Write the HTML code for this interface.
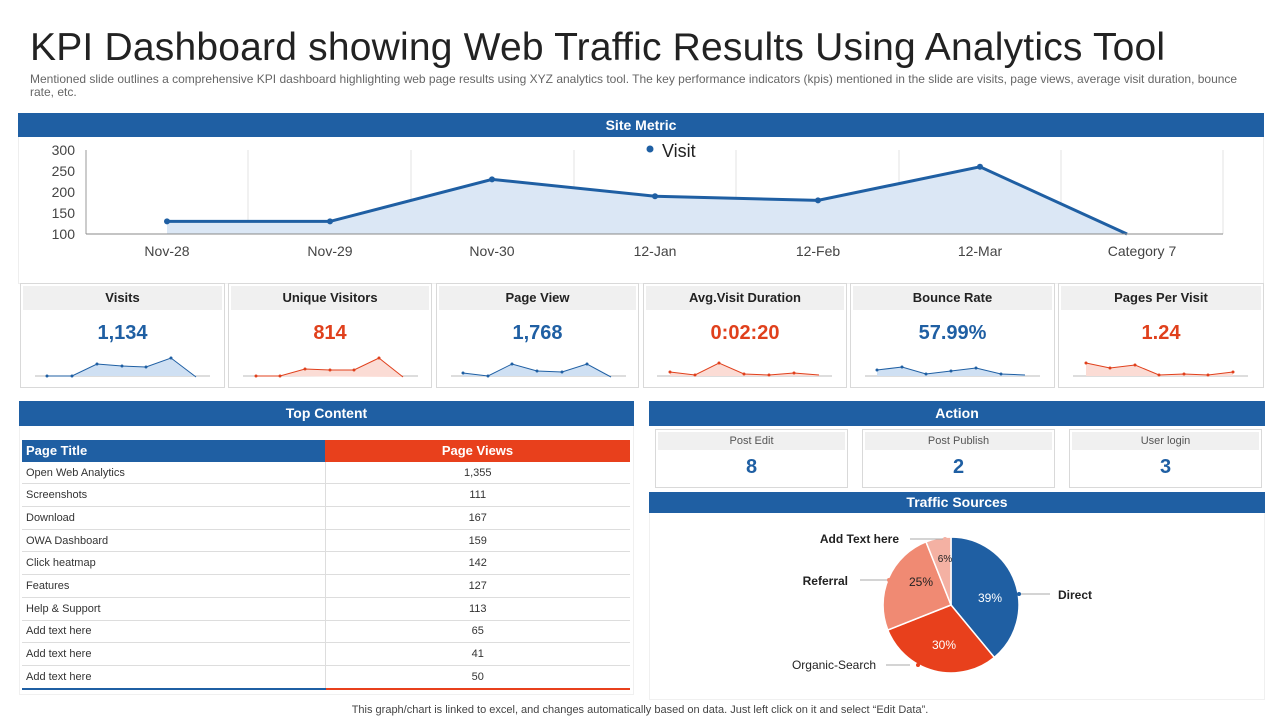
<!DOCTYPE html>
<html><head><meta charset="utf-8"><style>
body{margin:0;width:1280px;height:720px;background:#fff;position:relative;overflow:hidden;font-family:"Liberation Sans",sans-serif;}
.a{position:absolute}
.bar{position:absolute;background:#1f5fa3;color:#fff;font-weight:bold;font-size:14px;text-align:center}
.card{position:absolute;border:1px solid #d9d9d9;background:#fff}
.card .h{position:absolute;left:2px;right:2px;top:2px;height:24px;background:#f0f0f0;font-weight:bold;font-size:13px;color:#222;text-align:center;line-height:24px}
.card .v{position:absolute;left:0;right:0;top:38px;text-align:center;font-size:20px;font-weight:bold}
.ac .h{font-weight:normal;font-size:11px;color:#555;height:18px;line-height:18px}
.ac .v{top:26px}
table{border-collapse:collapse;font-size:11px;color:#333}
td{height:21.7px;border-bottom:1px solid #ddd;padding:0 4px}
</style></head><body>
<div class="a" style="left:30px;top:26px;font-size:39px;color:#222;letter-spacing:0.2px">KPI Dashboard showing Web Traffic Results Using Analytics Tool</div>
<div class="a" style="left:30px;top:73px;width:1215px;font-size:12px;color:#666;line-height:13px">Mentioned slide outlines a comprehensive KPI dashboard highlighting web page results using XYZ analytics tool. The key performance indicators (kpis) mentioned in the slide are visits, page views, average visit duration, bounce rate, etc.</div>

<div class="bar" style="left:18px;top:113px;width:1246px;height:24px;line-height:24px">Site Metric</div>
<div class="a" style="left:18px;top:137px;width:1244px;height:146px;border:1px solid #eee;border-top:none"></div>
<svg class="a" style="left:0;top:0" width="1280" height="290">
<g stroke="#e3e3e3" stroke-width="1">
<line x1="248" y1="150" x2="248" y2="234"/><line x1="411" y1="150" x2="411" y2="234"/><line x1="574" y1="150" x2="574" y2="234"/><line x1="736" y1="150" x2="736" y2="234"/><line x1="899" y1="150" x2="899" y2="234"/><line x1="1061" y1="150" x2="1061" y2="234"/><line x1="1223" y1="150" x2="1223" y2="234"/></g>
<polygon points="167,234 167,221.4 330,221.4 492,179.4 655,196.2 818,200.4 980,166.8 1127,234" fill="#dbe7f5"/>
<polyline points="167,221.4 330,221.4 492,179.4 655,196.2 818,200.4 980,166.8 1127,234" fill="none" stroke="#1f5fa3" stroke-width="3"/>
<g fill="#1f5fa3"><circle cx="167" cy="221.4" r="3"/><circle cx="330" cy="221.4" r="3"/><circle cx="492" cy="179.4" r="3"/><circle cx="655" cy="196.2" r="3"/><circle cx="818" cy="200.4" r="3"/><circle cx="980" cy="166.8" r="3"/></g>
<line x1="86" y1="150" x2="86" y2="234" stroke="#999"/><line x1="86" y1="234" x2="1223" y2="234" stroke="#888"/>
<g font-size="14" fill="#444" text-anchor="end" font-family="Liberation Sans"><text x="75" y="155">300</text><text x="75" y="176">250</text><text x="75" y="197">200</text><text x="75" y="218">150</text><text x="75" y="239">100</text></g>
<g font-size="14" fill="#444" text-anchor="middle" font-family="Liberation Sans"><text x="167" y="256">Nov-28</text><text x="330" y="256">Nov-29</text><text x="492" y="256">Nov-30</text><text x="655" y="256">12-Jan</text><text x="818" y="256">12-Feb</text><text x="980" y="256">12-Mar</text><text x="1142" y="256">Category 7</text></g>
<circle cx="650" cy="149" r="3.5" fill="#1f5fa3"/><text x="662" y="157" font-size="18" fill="#222" font-family="Liberation Sans">Visit</text>
</svg>

<div class="card" style="left:20px;top:283px;width:203px;height:103px"><div class="h">Visits</div><div class="v" style="color:#1f5fa3">1,134</div></div>
<div class="card" style="left:228px;top:283px;width:202px;height:103px"><div class="h">Unique Visitors</div><div class="v" style="color:#e0401c">814</div></div>
<div class="card" style="left:436px;top:283px;width:201px;height:103px"><div class="h">Page View</div><div class="v" style="color:#1f5fa3">1,768</div></div>
<div class="card" style="left:643px;top:283px;width:202px;height:103px"><div class="h">Avg.Visit Duration</div><div class="v" style="color:#e0401c">0:02:20</div></div>
<div class="card" style="left:850px;top:283px;width:203px;height:103px"><div class="h">Bounce Rate</div><div class="v" style="color:#1f5fa3">57.99%</div></div>
<div class="card" style="left:1058px;top:283px;width:204px;height:103px"><div class="h">Pages Per Visit</div><div class="v" style="color:#e0401c">1.24</div></div>
<svg class="a" style="left:0;top:340px" width="1280" height="50">
<g stroke="#bbb"><line x1="35" y1="36" x2="210" y2="36"/><line x1="243" y1="36" x2="418" y2="36"/><line x1="451" y1="36" x2="626" y2="36"/><line x1="657" y1="36" x2="832" y2="36"/><line x1="865" y1="36" x2="1040" y2="36"/><line x1="1073" y1="36" x2="1248" y2="36"/></g>
<g fill="#cfe0f3"><polygon points="47,36 72,36 97,24 122,26 146,27 171,18 196,37 196,36"/><polygon points="463,33 488,36 512,24 537,31 562,32 587,24 611,37 611,36 463,36"/><polygon points="877,30 902,27 926,34 951,31 976,28 1001,34 1025,35 1025,36 877,36"/></g>
<g fill="#fbdcd5"><polygon points="256,36 280,36 305,29 330,30 354,30 379,18 403,37"/><polygon points="670,32 695,35 719,23 744,34 769,35 794,33 819,35 819,36 670,36"/><polygon points="1086,23 1110,28 1135,25 1159,35 1184,34 1208,35 1233,32 1233,36 1086,36"/></g>
<g fill="none" stroke="#1f5fa3"><polyline points="47,36 72,36 97,24 122,26 146,27 171,18 196,37"/><polyline points="463,33 488,36 512,24 537,31 562,32 587,24 611,37"/><polyline points="877,30 902,27 926,34 951,31 976,28 1001,34 1025,35"/></g>
<g fill="none" stroke="#e0401c"><polyline points="256,36 280,36 305,29 330,30 354,30 379,18 403,37"/><polyline points="670,32 695,35 719,23 744,34 769,35 794,33 819,35"/><polyline points="1086,23 1110,28 1135,25 1159,35 1184,34 1208,35 1233,32"/></g>
<g fill="#1f5fa3"><circle cx="47" cy="36" r="1.5"/><circle cx="72" cy="36" r="1.5"/><circle cx="97" cy="24" r="1.5"/><circle cx="122" cy="26" r="1.5"/><circle cx="146" cy="27" r="1.5"/><circle cx="171" cy="18" r="1.5"/><circle cx="463" cy="33" r="1.5"/><circle cx="488" cy="36" r="1.5"/><circle cx="512" cy="24" r="1.5"/><circle cx="537" cy="31" r="1.5"/><circle cx="562" cy="32" r="1.5"/><circle cx="587" cy="24" r="1.5"/><circle cx="877" cy="30" r="1.5"/><circle cx="902" cy="27" r="1.5"/><circle cx="926" cy="34" r="1.5"/><circle cx="951" cy="31" r="1.5"/><circle cx="976" cy="28" r="1.5"/><circle cx="1001" cy="34" r="1.5"/></g>
<g fill="#e0401c"><circle cx="256" cy="36" r="1.5"/><circle cx="280" cy="36" r="1.5"/><circle cx="305" cy="29" r="1.5"/><circle cx="330" cy="30" r="1.5"/><circle cx="354" cy="30" r="1.5"/><circle cx="379" cy="18" r="1.5"/><circle cx="670" cy="32" r="1.5"/><circle cx="695" cy="35" r="1.5"/><circle cx="719" cy="23" r="1.5"/><circle cx="744" cy="34" r="1.5"/><circle cx="769" cy="35" r="1.5"/><circle cx="794" cy="33" r="1.5"/><circle cx="1086" cy="23" r="1.5"/><circle cx="1110" cy="28" r="1.5"/><circle cx="1135" cy="25" r="1.5"/><circle cx="1159" cy="35" r="1.5"/><circle cx="1184" cy="34" r="1.5"/><circle cx="1208" cy="35" r="1.5"/><circle cx="1233" cy="32" r="1.5"/></g>
</svg>

<div class="bar" style="left:19px;top:401px;width:615px;height:25px;line-height:25px">Top Content</div>
<div class="a" style="left:19px;top:426px;width:613px;height:268px;border:1px solid #f0f0f0;border-top:none"></div>
<table class="a" style="left:22px;top:440px;width:608px">
<tr style="height:21px"><td style="background:#1f5fa3;color:#fff;font-weight:bold;font-size:13px;width:295px;border:none">Page Title</td><td style="background:#e8401c;color:#fff;font-weight:bold;font-size:13px;text-align:center;border:none">Page Views</td></tr>
<tr><td style="border-right:1px solid #ddd">Open Web Analytics</td><td align="center">1,355</td></tr>
<tr><td style="border-right:1px solid #ddd">Screenshots</td><td align="center">111</td></tr>
<tr><td style="border-right:1px solid #ddd">Download</td><td align="center">167</td></tr>
<tr><td style="border-right:1px solid #ddd">OWA Dashboard</td><td align="center">159</td></tr>
<tr><td style="border-right:1px solid #ddd">Click heatmap</td><td align="center">142</td></tr>
<tr><td style="border-right:1px solid #ddd">Features</td><td align="center">127</td></tr>
<tr><td style="border-right:1px solid #ddd">Help &amp; Support</td><td align="center">113</td></tr>
<tr><td style="border-right:1px solid #ddd">Add text here</td><td align="center">65</td></tr>
<tr><td style="border-right:1px solid #ddd">Add text here</td><td align="center">41</td></tr>
<tr><td style="border-right:1px solid #ddd;border-bottom:2px solid #1f5fa3">Add text here</td><td align="center" style="border-bottom:2px solid #e8401c">50</td></tr>
</table>

<div class="bar" style="left:649px;top:401px;width:616px;height:25px;line-height:25px">Action</div>
<div class="card ac" style="left:655px;top:429px;width:191px;height:57px"><div class="h">Post Edit</div><div class="v" style="color:#1f5fa3">8</div></div>
<div class="card ac" style="left:862px;top:429px;width:191px;height:57px"><div class="h">Post Publish</div><div class="v" style="color:#1f5fa3">2</div></div>
<div class="card ac" style="left:1069px;top:429px;width:191px;height:57px"><div class="h">User login</div><div class="v" style="color:#1f5fa3">3</div></div>
<div class="bar" style="left:649px;top:492px;width:616px;height:21px;line-height:21px">Traffic Sources</div>
<div class="a" style="left:649px;top:513px;width:614px;height:186px;border:1px solid #f0f0f0;border-top:none"></div>
<svg class="a" style="left:0;top:0" width="1280" height="720" font-family="Liberation Sans">
<g stroke="#fff" stroke-width="1.5">
<path d="M951,605 L951,537 A68,68 0 0 1 994.3,657.4 Z" fill="#1f5fa3"/>
<path d="M951,605 L994.3,657.4 A68,68 0 0 1 887.8,630 Z" fill="#e8401c"/>
<path d="M951,605 L887.8,630 A68,68 0 0 1 926,541.8 Z" fill="#f08a73"/>
<path d="M951,605 L926,541.8 A68,68 0 0 1 951,537 Z" fill="#f4b1a3"/>
</g>
<g font-size="12" text-anchor="middle"><text x="990" y="602" fill="#fff">39%</text><text x="944" y="649" fill="#fff">30%</text><text x="921" y="586" fill="#222">25%</text><text x="945" y="562" fill="#222" font-size="10">6%</text></g>
<g stroke="#aaa"><line x1="1019" y1="594" x2="1050" y2="594"/><line x1="886" y1="665" x2="910" y2="665"/><line x1="860" y1="580" x2="889" y2="580"/><line x1="910" y1="539" x2="945" y2="539"/></g>
<circle cx="1019" cy="594" r="2" fill="#1f5fa3"/><circle cx="918" cy="665" r="2" fill="#e8401c"/><circle cx="889" cy="580" r="2" fill="#f08a73"/><circle cx="945" cy="539" r="2" fill="#f4b1a3"/>
<g font-size="12" fill="#222" font-weight="bold"><text x="1058" y="599">Direct</text><text x="876" y="669" text-anchor="end" font-weight="normal">Organic-Search</text><text x="848" y="585" text-anchor="end">Referral</text><text x="899" y="543" text-anchor="end">Add Text here</text></g>
</svg>
<div class="a" style="left:0;width:1280px;top:704px;text-align:center;font-size:11px;color:#444">This graph/chart is linked to excel, and changes automatically based on data. Just left click on it and select “Edit Data”.</div>
</body></html>
